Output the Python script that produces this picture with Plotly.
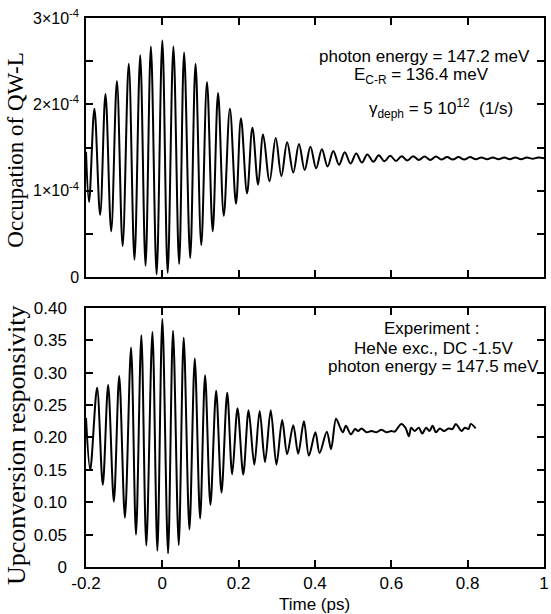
import plotly.graph_objects as go

# ---------------- data ----------------
# Top panel: calculated occupation of QW-L (units of 1e-4)
t_top = [-0.200, -0.192, -0.178, -0.163, -0.149, -0.134, -0.119, -0.104, -0.088, -0.073,
         -0.058, -0.044, -0.030, -0.015, 0.000, 0.014, 0.029, 0.044, 0.057, 0.073,
         0.087, 0.102, 0.117, 0.132, 0.146, 0.161, 0.177, 0.193, 0.206, 0.222,
         0.236, 0.251, 0.264, 0.281, 0.297, 0.312, 0.327, 0.343, 0.358, 0.373,
         0.388, 0.403, 0.418, 0.433, 0.448, 0.463, 0.478, 0.493, 0.508, 0.523,
         0.537, 0.553, 0.567, 0.582, 0.597, 0.612, 0.627, 0.642, 0.657, 0.672,
         0.687, 0.702, 0.717, 0.731, 0.746, 0.761, 0.776, 0.791, 0.806, 0.821,
         0.836, 0.851, 0.866, 0.881, 0.896, 0.910, 0.925, 0.940, 0.955, 0.970,
         0.985, 1.000]
occ_top_e4 = [1.45, 0.87, 1.95, 0.72, 2.12, 0.53, 2.27, 0.36, 2.47, 0.20,
              2.57, 0.13, 2.67, 0.03, 2.74, 0.05, 2.67, 0.15, 2.60, 0.22,
              2.47, 0.37, 2.26, 0.53, 2.13, 0.71, 1.95, 0.85, 1.84, 0.97,
              1.73, 1.07, 1.65, 1.11, 1.61, 1.17, 1.56, 1.21, 1.54, 1.24,
              1.51, 1.26, 1.48, 1.28, 1.46, 1.30, 1.445, 1.315, 1.43, 1.325,
              1.42, 1.335, 1.41, 1.34, 1.405, 1.345, 1.40, 1.35, 1.40, 1.355,
              1.395, 1.355, 1.395, 1.36, 1.39, 1.36, 1.39, 1.36, 1.39, 1.365,
              1.385, 1.365, 1.385, 1.365, 1.385, 1.365, 1.385, 1.365, 1.385, 1.37,
              1.385, 1.375]

# Bottom panel: measured upconversion responsivity
t_exp = [-0.200, -0.189, -0.171, -0.156, -0.142, -0.127, -0.113, -0.098, -0.082, -0.069,
         -0.055, -0.042, -0.026, -0.013, 0.000, 0.015, 0.028, 0.043, 0.056, 0.071,
         0.085, 0.099, 0.112, 0.126, 0.141, 0.155, 0.170, 0.183, 0.197, 0.212,
         0.226, 0.241, 0.255, 0.269, 0.284, 0.299, 0.314, 0.327, 0.343, 0.356,
         0.371, 0.384, 0.401, 0.412, 0.431, 0.442, 0.455, 0.464, 0.473, 0.481,
         0.494, 0.505, 0.513, 0.522, 0.535, 0.548, 0.561, 0.574, 0.587, 0.600,
         0.609, 0.617, 0.626, 0.637, 0.646, 0.652, 0.661, 0.672, 0.681, 0.691,
         0.700, 0.708, 0.717, 0.727, 0.738, 0.750, 0.760, 0.769, 0.777, 0.784,
         0.793, 0.802, 0.808, 0.821]
resp_exp = [0.230, 0.150, 0.277, 0.127, 0.281, 0.101, 0.295, 0.076, 0.339, 0.050,
            0.358, 0.033, 0.363, 0.025, 0.383, 0.021, 0.365, 0.034, 0.354, 0.058,
            0.322, 0.075, 0.296, 0.096, 0.272, 0.115, 0.269, 0.143, 0.245, 0.143,
            0.242, 0.158, 0.241, 0.162, 0.242, 0.158, 0.227, 0.174, 0.219, 0.175,
            0.225, 0.172, 0.208, 0.176, 0.209, 0.182, 0.229, 0.218, 0.208, 0.218,
            0.205, 0.213, 0.210, 0.214, 0.208, 0.210, 0.208, 0.212, 0.208, 0.210,
            0.209, 0.215, 0.221, 0.215, 0.202, 0.215, 0.210, 0.215, 0.206, 0.215,
            0.210, 0.218, 0.208, 0.214, 0.210, 0.214, 0.213, 0.221, 0.215, 0.210,
            0.215, 0.213, 0.221, 0.214]

# ticks
x_tickvals = [-0.2, 0.0, 0.2, 0.4, 0.6, 0.8, 1.0]
x_ticktext = ["-0.2", "0", "0.2", "0.4", "0.6", "0.8", "1"]
occ_tickvals = [0, 1e-4, 2e-4, 3e-4]
occ_ticktext = ["0", "1×10<sup>-4</sup>", "2×10<sup>-4</sup>", "3×10<sup>-4</sup>"]
occ_minor_step = 0.5e-4
resp_tickvals = [0, 0.05, 0.10, 0.15, 0.20, 0.25, 0.30, 0.35, 0.40]
resp_ticktext = ["0", "0.05", "0.10", "0.15", "0.20", "0.25", "0.30", "0.35", "0.40"]

SANS = "Liberation Sans, Arial, sans-serif"
SERIF = "Liberation Serif, Times New Roman, serif"

fig = go.Figure()
fig.add_trace(go.Scatter(x=t_top, y=[v * 1e-4 for v in occ_top_e4], mode="lines",
                         line=dict(color="black", width=2, shape="spline", smoothing=1.0),
                         xaxis="x", yaxis="y", showlegend=False))
fig.add_trace(go.Scatter(x=t_exp, y=resp_exp, mode="lines",
                         line=dict(color="black", width=2, shape="spline", smoothing=0.9),
                         xaxis="x2", yaxis="y2", showlegend=False))

common_axis = dict(showline=True, linecolor="black", linewidth=1.5, mirror="ticks",
                   ticks="inside", ticklen=7, tickwidth=1.5, tickcolor="black",
                   showgrid=False, zeroline=False)

fig.update_layout(
    width=551, height=614,
    margin=dict(l=86, r=2, t=18, b=47),
    paper_bgcolor="white", plot_bgcolor="white",
    font=dict(family=SANS, color="black", size=16),
    xaxis=dict(domain=[0, 1], range=[-0.2, 1.0], anchor="y",
               tickvals=x_tickvals, showticklabels=False, **common_axis),
    yaxis=dict(domain=[0.5282, 1], range=[0, 3e-4], anchor="x",
               tickvals=occ_tickvals, ticktext=occ_ticktext,
               minor=dict(dtick=occ_minor_step, tick0=0, ticks="inside", ticklen=7,
                          tickwidth=1.5, tickcolor="black", showgrid=False),
               tickfont=dict(family=SANS, size=16), ticklabelstandoff=2,
               ticklabeloverflow="allow", **common_axis),
    xaxis2=dict(domain=[0, 1], range=[-0.2, 1.0], anchor="y2",
                tickvals=x_tickvals, ticktext=x_ticktext,
                tickfont=dict(family=SANS, size=17), ticklabeloverflow="allow", **common_axis),
    yaxis2=dict(domain=[0, 0.4718], range=[0, 0.40], anchor="x2",
                tickvals=resp_tickvals, ticktext=resp_ticktext,
                tickfont=dict(family=SANS, size=17), ticklabelstandoff=14, **common_axis),
)

ann = [
    dict(text="photon energy = 147.2 meV", x=0.688, y=2.55e-4, xref="x", yref="y"),
    dict(text="E<sub>C-R</sub> = 136.4 meV", x=0.68, y=2.33e-4, xref="x", yref="y"),
    dict(text="γ<sub>deph</sub> = 5 10<sup>12</sup>  (1/s)", x=0.73, y=1.95e-4, xref="x", yref="y"),
    dict(text="Experiment :", x=0.706, y=0.368, xref="x2", yref="y2"),
    dict(text="HeNe exc., DC -1.5V", x=0.711, y=0.337, xref="x2", yref="y2"),
    dict(text="photon energy = 147.5 meV", x=0.711, y=0.309, xref="x2", yref="y2"),
]
for a in ann:
    fig.add_annotation(text=a["text"], x=a["x"], y=a["y"], xref=a["xref"], yref=a["yref"],
                       showarrow=False, xanchor="center", yanchor="middle",
                       font=dict(family=SANS, size=17, color="black"))

# axis titles (plot area is 463 x 549 px)
fig.add_annotation(text="Occupation of QW-L", xref="paper", yref="paper",
                   x=-0.153, y=0.76, textangle=-90, showarrow=False,
                   xanchor="center", yanchor="middle",
                   font=dict(family=SERIF, size=23, color="black"))
fig.add_annotation(text="Upconversion responsivity", xref="paper", yref="paper",
                   x=-0.153, y=0.222, textangle=-90, showarrow=False,
                   xanchor="center", yanchor="middle",
                   font=dict(family=SERIF, size=26, color="black"))
fig.add_annotation(text="Time (ps)", xref="paper", yref="paper",
                   x=0.499, y=-0.069, showarrow=False,
                   xanchor="center", yanchor="middle",
                   font=dict(family=SANS, size=17, color="black"))

# remove the default page margin so the figure fills the 551x614 window exactly
fig.write_html("out.html", config={"displayModeBar": False},
               post_script="document.body.style.margin='0';document.body.style.padding='0';")
